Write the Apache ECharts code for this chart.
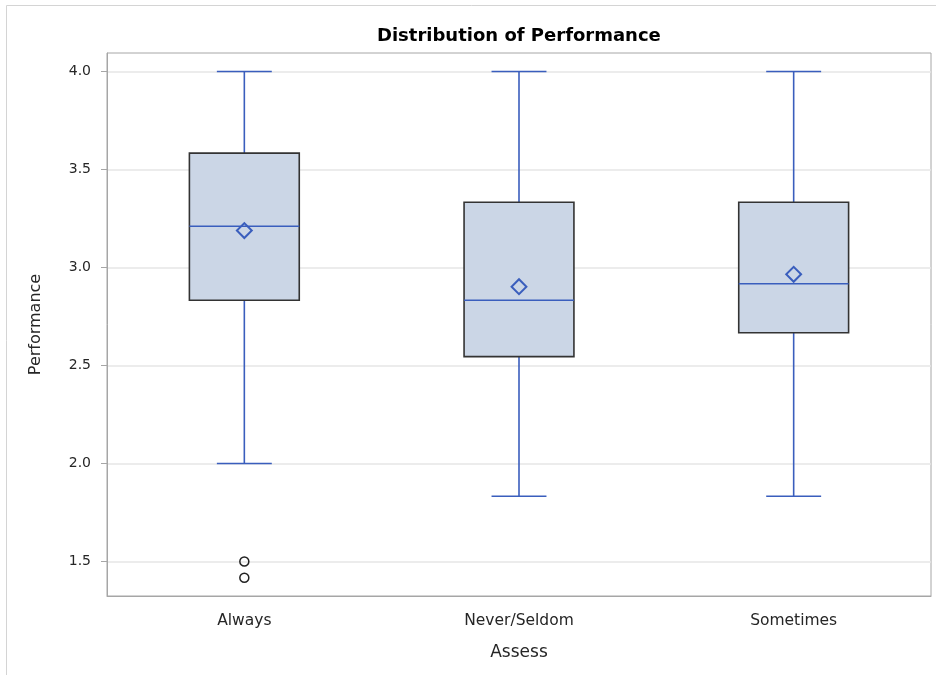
<!DOCTYPE html>
<html>
<head>
<meta charset="utf-8">
<script src="https://cdn.jsdelivr.net/npm/echarts@6/dist/echarts.min.js"></script>
<style>
  html, body { margin: 0; padding: 0; background: #fff; }
  #chart { width: 936px; height: 675px; }
</style>
</head>
<body>
<div id="chart"></div>
<script>
// Assessment groups on the category axis
const categories = ['Always', 'Never/Seldom', 'Sometimes'];

// Five-number summaries per group: [min whisker, Q1, median, Q3, max whisker]
const boxAlways    = [2.0,   2.833, 3.210, 3.583, 4.0];
const boxNever     = [1.833, 2.545, 2.833, 3.333, 4.0];
const boxSometimes = [1.833, 2.667, 2.917, 3.333, 4.0];

// Group means (diamonds)
const means = [3.188, 2.902, 2.965];

// Outliers below the lower whisker: [group index, value]
const outliers = [[0, 1.5], [0, 1.417]];

// Y axis tick labels
const yTicks = [1.5, 2.0, 2.5, 3.0, 3.5, 4.0];

const BLUE = '#3A5EBD';
const FONT = 'DejaVu Sans, Verdana, sans-serif';
const boxes = [boxAlways, boxNever, boxSometimes].map((b, i) => [i].concat(b));

const chart = echarts.init(document.getElementById('chart'), null, { renderer: 'canvas' });

// Draws whiskers, caps, the IQR box and the median line for one group
function renderBox(params, api) {
  const idx = api.value(0);
  const band = api.size([1, 0])[0];
  const half = band * 0.20;
  const capHalf = band * 0.10;
  const pMin = api.coord([idx, api.value(1)]);
  const pQ1 = api.coord([idx, api.value(2)]);
  const pMed = api.coord([idx, api.value(3)]);
  const pQ3 = api.coord([idx, api.value(4)]);
  const pMax = api.coord([idx, api.value(5)]);
  const x = pMed[0];
  const wStyle = { stroke: BLUE, lineWidth: 1.6 };
  return {
    type: 'group',
    children: [
      { type: 'line', shape: { x1: x, y1: pQ3[1], x2: x, y2: pMax[1] }, style: wStyle },
      { type: 'line', shape: { x1: x, y1: pQ1[1], x2: x, y2: pMin[1] }, style: wStyle },
      { type: 'line', shape: { x1: x - capHalf, y1: pMax[1], x2: x + capHalf, y2: pMax[1] }, style: wStyle },
      { type: 'line', shape: { x1: x - capHalf, y1: pMin[1], x2: x + capHalf, y2: pMin[1] }, style: wStyle },
      {
        type: 'rect',
        shape: { x: x - half, y: pQ3[1], width: half * 2, height: pQ1[1] - pQ3[1] },
        style: { fill: '#CBD6E6', stroke: '#333333', lineWidth: 1.6 }
      },
      { type: 'line', shape: { x1: x - half, y1: pMed[1], x2: x + half, y2: pMed[1] }, style: wStyle }
    ]
  };
}

const option = {
  backgroundColor: '#ffffff',
  animation: false,
  title: {
    text: 'Distribution of Performance',
    left: 372,
    top: 22,
    textStyle: { fontFamily: FONT, fontSize: 18, fontWeight: 'bold', color: '#000' }
  },
  graphic: [{
    type: 'rect',
    shape: { x: 6.5, y: 5.5, width: 960, height: 700 },
    style: { fill: 'none', stroke: '#d4d4d4', lineWidth: 1 },
    z: -10
  }],
  grid: {
    left: 107, right: 5, top: 53, bottom: 79,
    show: true, borderColor: '#a6a6a6', borderWidth: 1, backgroundColor: 'transparent'
  },
  xAxis: {
    type: 'category',
    data: categories,
    name: 'Assess',
    nameLocation: 'middle',
    nameGap: 48,
    nameTextStyle: { fontFamily: FONT, fontSize: 17, color: '#262626' },
    axisLine: { lineStyle: { color: '#a6a6a6' } },
    axisTick: { alignWithLabel: true, length: 6, lineStyle: { color: '#a6a6a6' } },
    axisLabel: { fontFamily: FONT, fontSize: 15.5, color: '#262626', margin: 17 },
    splitLine: { show: false }
  },
  yAxis: {
    type: 'value',
    min: 1.324,
    max: 4.094,
    name: 'Performance',
    nameLocation: 'middle',
    nameGap: 63,
    nameRotate: 90,
    nameTextStyle: { fontFamily: FONT, fontSize: 16, color: '#262626' },
    axisLine: { show: true, lineStyle: { color: '#a6a6a6' } },
    axisTick: { show: true, length: 6, customValues: yTicks, lineStyle: { color: '#a6a6a6' } },
    axisLabel: {
      fontFamily: FONT, fontSize: 14, color: '#262626', margin: 16,
      customValues: yTicks,
      formatter: v => v.toFixed(1)
    },
    splitLine: { show: true, lineStyle: { color: '#e6e6e6', width: 1.5 } }
  },
  series: [
    {
      type: 'custom',
      renderItem: renderBox,
      data: boxes,
      encode: { x: 0, y: [1, 2, 3, 4, 5] },
      z: 2
    },
    {
      type: 'scatter',
      data: means.map((m, i) => [i, m]),
      symbol: 'rect',
      symbolRotate: 45,
      symbolSize: 10.5,
      itemStyle: { color: 'rgba(0,0,0,0)', borderColor: BLUE, borderWidth: 2, opacity: 1 },
      z: 3
    },
    {
      type: 'scatter',
      data: outliers,
      symbol: 'circle',
      symbolSize: 9,
      itemStyle: { color: 'rgba(0,0,0,0)', borderColor: '#222', borderWidth: 1.5, opacity: 1 },
      z: 3
    }
  ]
};

chart.setOption(option);
</script>
</body>
</html>
